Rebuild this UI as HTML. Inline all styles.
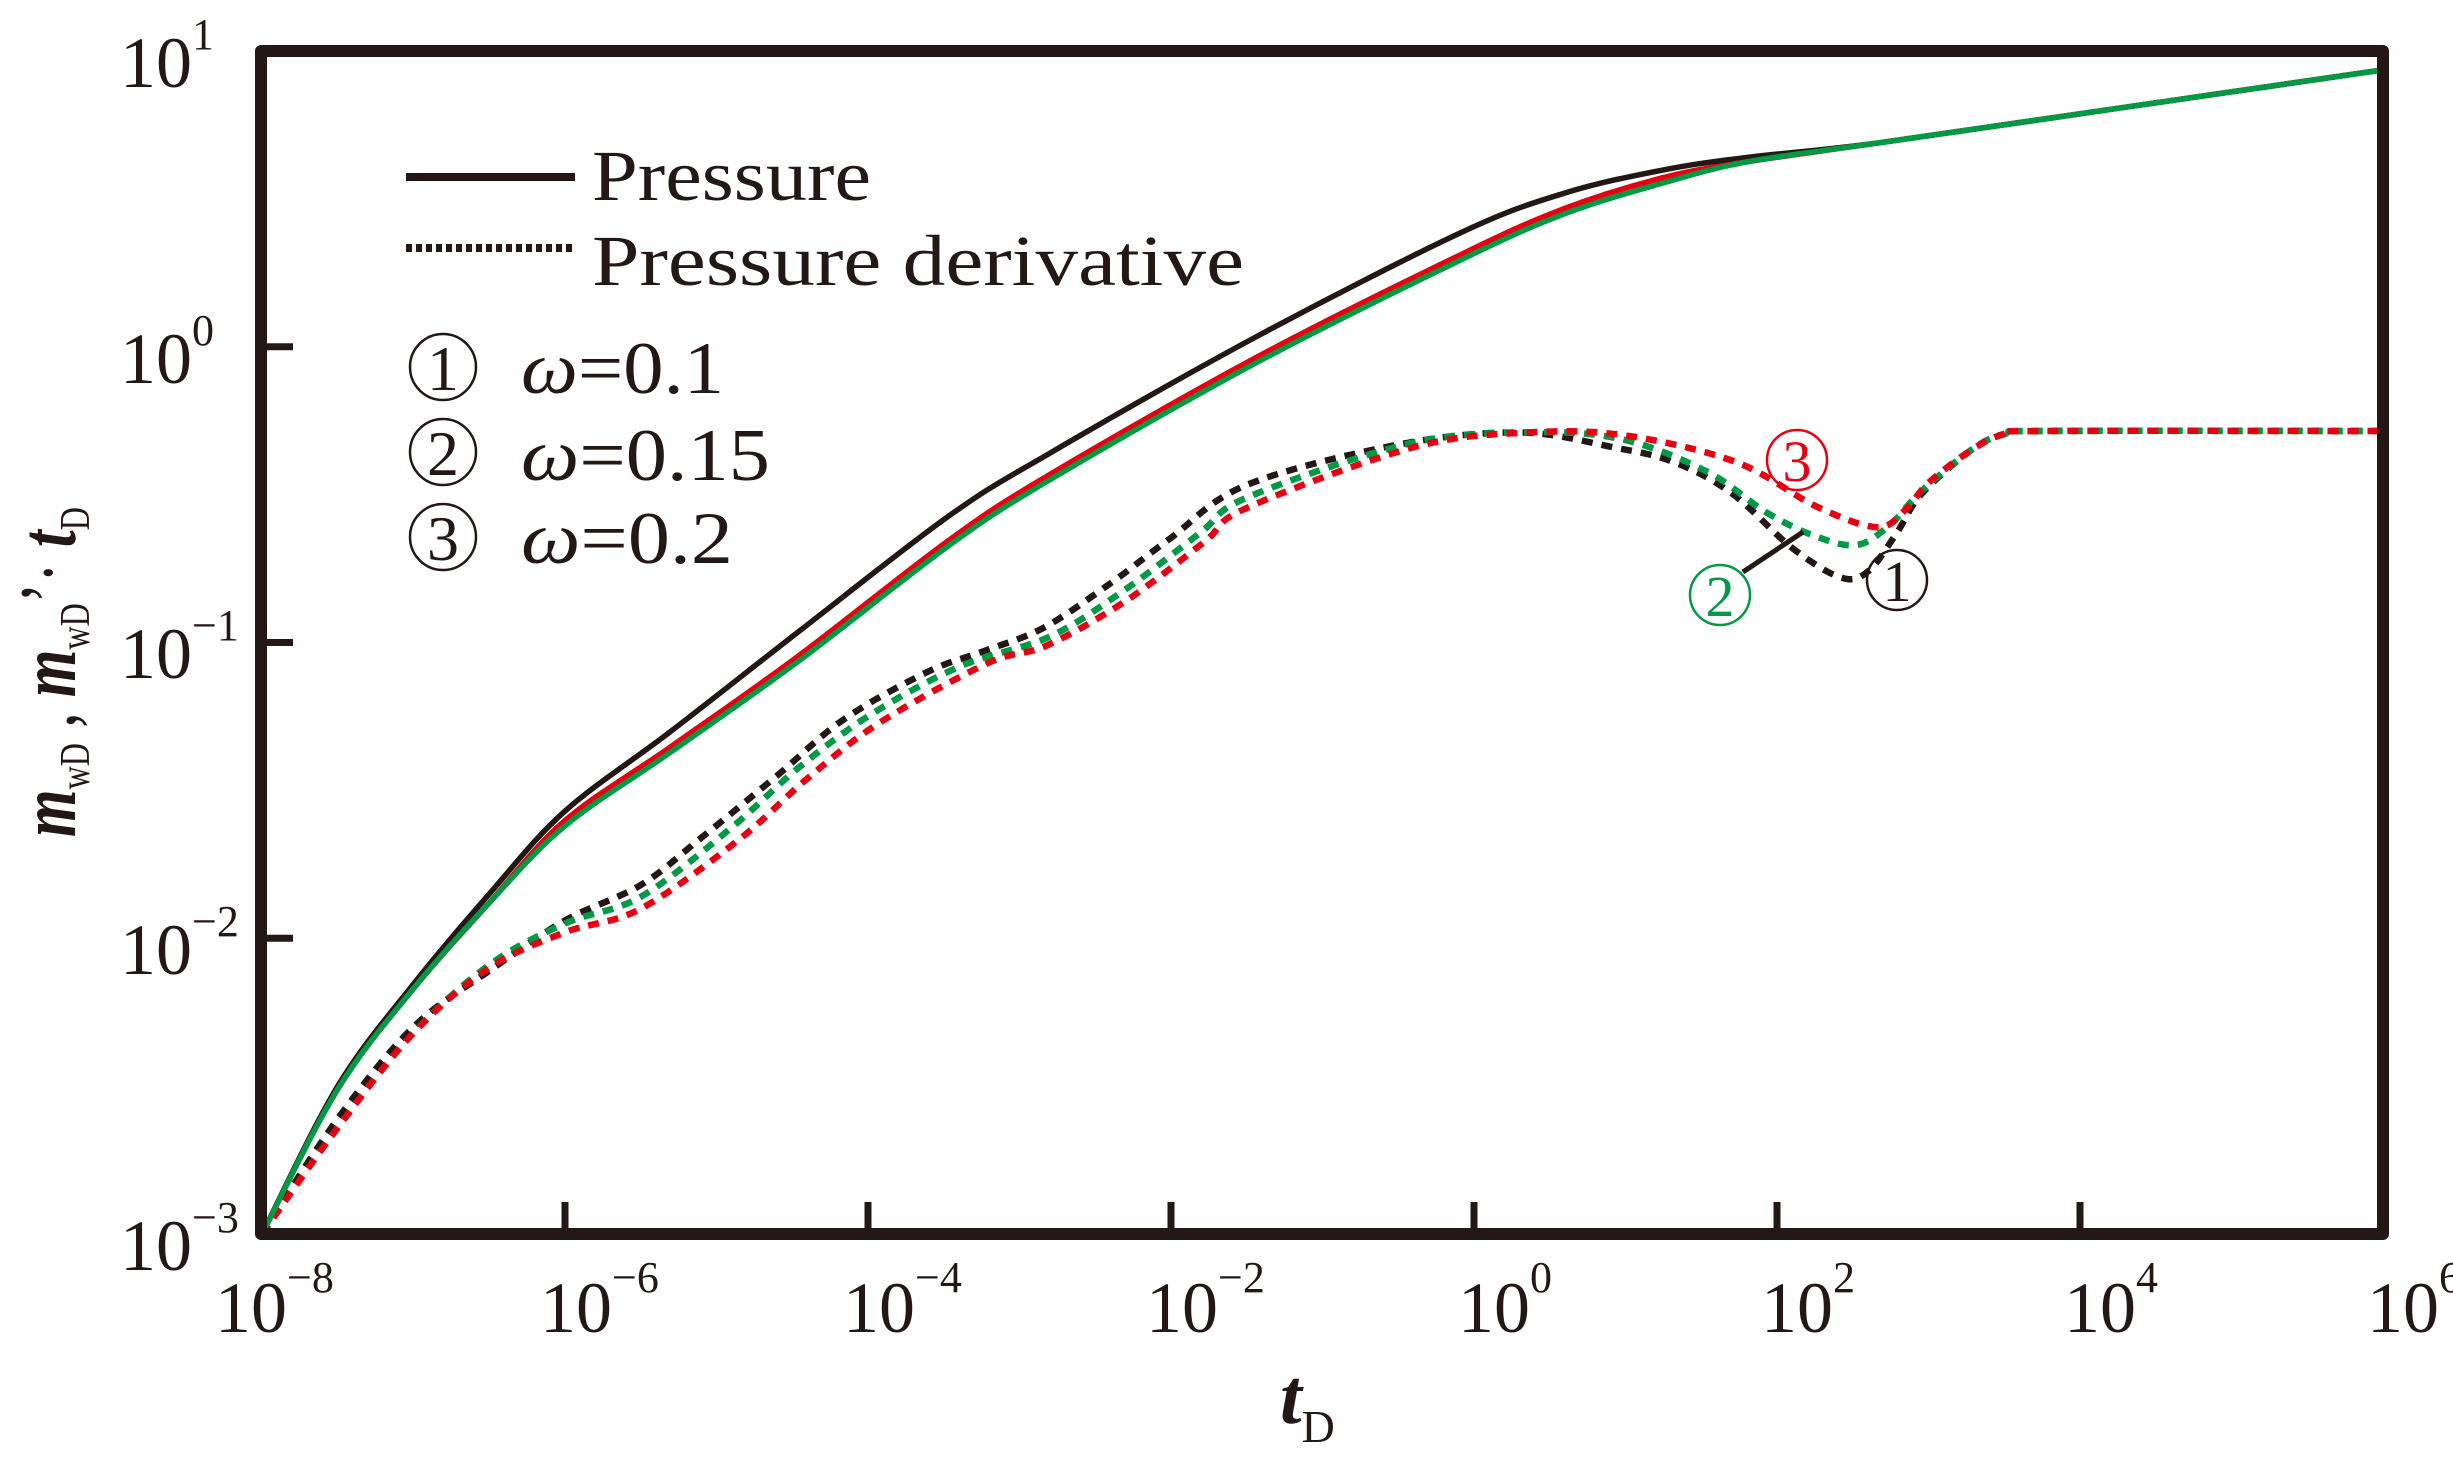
<!DOCTYPE html>
<html><head><meta charset="utf-8"><style>
html,body{margin:0;padding:0;background:#fff;}
svg{display:block;}
</style></head><body>
<svg id="s" width="2453" height="1462" viewBox="0 0 2453 1462" xmlns="http://www.w3.org/2000/svg" font-family="'Liberation Serif', 'Times New Roman', serif" fill="#231815">
<rect width="2453" height="1462" fill="#fff"/>
<g id="curves"></g>
<rect x="261" y="51" width="2122" height="1183" fill="none" stroke="#231815" stroke-width="12" stroke-linejoin="round"/>
<g stroke="#231815" stroke-width="7">
<line x1="565" y1="1234" x2="565" y2="1202"/>
<line x1="868" y1="1234" x2="868" y2="1202"/>
<line x1="1171" y1="1234" x2="1171" y2="1202"/>
<line x1="1474" y1="1234" x2="1474" y2="1202"/>
<line x1="1777" y1="1234" x2="1777" y2="1202"/>
<line x1="2080" y1="1234" x2="2080" y2="1202"/>
<line x1="261" y1="346.75" x2="293" y2="346.75"/>
<line x1="261" y1="642.5" x2="293" y2="642.5"/>
<line x1="261" y1="938.25" x2="293" y2="938.25"/>
</g>
<g font-size="72" font-family="'Liberation Serif', serif">
<text x="120" y="87">10<tspan font-size="44" dy="-38">1</tspan></text>
<text x="120" y="383">10<tspan font-size="44" dy="-38">0</tspan></text>
<text x="120" y="678">10<tspan font-size="44" dy="-38">−1</tspan></text>
<text x="120" y="974">10<tspan font-size="44" dy="-38">−2</tspan></text>
<text x="120" y="1270">10<tspan font-size="44" dy="-38">−3</tspan></text>
</g>
<g font-size="72" font-family="'Liberation Serif', serif">
<text x="215" y="1332">10<tspan font-size="44" dy="-40">−8</tspan></text>
<text x="540" y="1332">10<tspan font-size="44" dy="-40">−6</tspan></text>
<text x="843" y="1332">10<tspan font-size="44" dy="-40">−4</tspan></text>
<text x="1146" y="1332">10<tspan font-size="44" dy="-40">−2</tspan></text>
<text x="1458" y="1332">10<tspan font-size="44" dy="-40">0</tspan></text>
<text x="1761" y="1332">10<tspan font-size="44" dy="-40">2</tspan></text>
<text x="2064" y="1332">10<tspan font-size="44" dy="-40">4</tspan></text>
<text x="2367" y="1332">10<tspan font-size="44" dy="-40">6</tspan></text>
</g>
<text x="1280" y="1423" font-size="78" font-style="italic" font-weight="bold" font-family="'Liberation Serif', serif">t<tspan font-size="46" font-style="normal" font-weight="normal" dy="19">D</tspan></text>
<text transform="translate(75,837) rotate(-90)" font-size="80" font-family="'Liberation Serif', serif" textLength="330" lengthAdjust="spacingAndGlyphs"><tspan font-style="italic" font-weight="bold">m</tspan><tspan font-size="42" dy="14">wD</tspan><tspan dy="-14"> , </tspan><tspan font-style="italic" font-weight="bold">m</tspan><tspan font-size="42" dy="14">wD</tspan><tspan dy="-14">’· </tspan><tspan font-style="italic" font-weight="bold">t</tspan><tspan font-size="42" dy="14">D</tspan></text>
<line x1="406" y1="177" x2="575" y2="177" stroke="#231815" stroke-width="8"/>
<line x1="406" y1="248" x2="575" y2="248" stroke="#231815" stroke-width="8" stroke-dasharray="6 4"/>
<text x="592" y="200" font-size="72" font-family="'Liberation Serif', serif" textLength="279" lengthAdjust="spacingAndGlyphs">Pressure</text>
<text x="592" y="285" font-size="72" font-family="'Liberation Serif', serif" textLength="652" lengthAdjust="spacingAndGlyphs">Pressure  derivative</text>
<g fill="none" stroke="#231815" stroke-width="2.5">
<circle cx="443" cy="367" r="33"/>
<circle cx="443" cy="452" r="33"/>
<circle cx="443" cy="537" r="33"/>
</g>
<g font-size="64" text-anchor="middle" font-family="'Liberation Serif', serif">
<text x="443" y="390">1</text>
<text x="443" y="475">2</text>
<text x="443" y="560">3</text>
</g>
<g font-size="74" font-family="'Liberation Serif', serif">
<text x="521" y="393" textLength="203" lengthAdjust="spacingAndGlyphs"><tspan font-style="italic">ω</tspan>=0.1</text>
<text x="521" y="480" textLength="249" lengthAdjust="spacingAndGlyphs"><tspan font-style="italic">ω</tspan>=0.15</text>
<text x="521" y="563" textLength="212" lengthAdjust="spacingAndGlyphs"><tspan font-style="italic">ω</tspan>=0.2</text>
</g>
<line x1="1743" y1="572" x2="1803" y2="532" stroke="#231815" stroke-width="5"/>
<circle cx="1797" cy="460" r="30" fill="none" stroke="#e60012" stroke-width="2.5"/>
<text x="1797" y="481" font-size="58" text-anchor="middle" fill="#e60012" font-family="'Liberation Serif', serif">3</text>
<circle cx="1720" cy="595" r="30" fill="none" stroke="#009944" stroke-width="2.5"/>
<text x="1720" y="616" font-size="58" text-anchor="middle" fill="#009944" font-family="'Liberation Serif', serif">2</text>
<circle cx="1897" cy="580" r="30" fill="none" stroke="#231815" stroke-width="2.5"/>
<text x="1897" y="601" font-size="58" text-anchor="middle" font-family="'Liberation Serif', serif">1</text>
</svg>
<script>
(function(){
function X(l){return 262+(l+8)*151.5;}
function Y(l){return 51+(1-l)*295.75;}
function path(pts){
  var p=pts.map(function(a){return [X(a[0]),Y(a[1])];});
  var d="M"+p[0][0].toFixed(1)+","+p[0][1].toFixed(1);
  for(var i=0;i<p.length-1;i++){
    var p0=p[i-1]||p[i],p1=p[i],p2=p[i+1],p3=p[i+2]||p[i+1];
    var c1x=p1[0]+(p2[0]-p0[0])/6,c1y=p1[1]+(p2[1]-p0[1])/6;
    var c2x=p2[0]-(p3[0]-p1[0])/6,c2y=p2[1]-(p3[1]-p1[1])/6;
    d+=" C"+c1x.toFixed(1)+","+c1y.toFixed(1)+" "+c2x.toFixed(1)+","+c2y.toFixed(1)+" "+p2[0].toFixed(1)+","+p2[1].toFixed(1);
  }
  return d;
}
var gP=[[-8,-3],[-7.5,-2.51],[-7,-2.17],[-6.5,-1.88],[-6,-1.62],[-5.3,-1.37],[-4.45,-1.06],[-3.46,-0.67],[-2.8,-0.45],[-1.44,-0.055],[-0.09,0.293],[0.6,0.45],[1.25,0.554],[1.8,0.625],[2.68,0.69],[4.3,0.81],[6,0.936]];
var bP=[[-8,-3],[-7.5,-2.50],[-7,-2.155],[-6.5,-1.85],[-6,-1.57],[-5.3,-1.30],[-4.45,-0.96],[-3.46,-0.57],[-2.8,-0.36],[-1.44,0.033],[-0.09,0.385],[0.6,0.52],[1.25,0.598],[1.8,0.64],[2.68,0.69],[4.3,0.81],[6,0.936]];
var rP=gP.map(function(a){var o=(a[0]>-6.5&&a[0]<1.6)?0.018:0;return [a[0],a[1]+o];});
var bD=[[-8,-3],[-7.5,-2.61],[-7,-2.30],[-6.5,-2.11],[-6,-1.94],[-5.5,-1.82],[-5.1,-1.66],[-4.6,-1.45],[-4.16,-1.26],[-3.61,-1.10],[-3.24,-1.03],[-2.84,-0.95],[-2.4,-0.80],[-2.01,-0.65],[-1.5,-0.467],[-0.49,-0.33],[0.31,-0.29],[0.92,-0.34],[1.32,-0.39],[1.70,-0.495],[2.1,-0.68],[2.42,-0.78],[2.6,-0.76],[2.79,-0.63],[2.95,-0.50],[3.28,-0.35],[3.5,-0.295],[3.75,-0.285],[6,-0.285]];
var gD=[[-8,-3],[-7.5,-2.64],[-7,-2.32],[-6.5,-2.09],[-6,-1.95],[-5.5,-1.86],[-4.91,-1.63],[-4.45,-1.42],[-3.97,-1.24],[-3.39,-1.08],[-2.80,-0.98],[-2.3,-0.82],[-1.81,-0.63],[-1.5,-0.51],[-0.45,-0.33],[0.3,-0.29],[0.95,-0.31],[1.53,-0.42],[1.93,-0.56],[2.25,-0.64],[2.53,-0.67],[2.75,-0.60],[2.95,-0.49],[3.28,-0.35],[3.5,-0.295],[3.75,-0.285],[6,-0.285]];
var rD=[[-8,-3],[-7.5,-2.64],[-7,-2.32],[-6.5,-2.10],[-6,-1.98],[-5.5,-1.90],[-4.86,-1.67],[-4.4,-1.46],[-3.92,-1.27],[-3.21,-1.07],[-2.82,-1.01],[-2.3,-0.86],[-1.78,-0.66],[-1.5,-0.545],[-0.4,-0.34],[0.35,-0.29],[1.0,-0.30],[1.73,-0.39],[2.26,-0.54],[2.66,-0.61],[2.85,-0.55],[3.0,-0.46],[3.28,-0.35],[3.5,-0.295],[3.75,-0.285],[6,-0.285]];
var defs=[
 [bD,"#231815",true],[gD,"#009944",true],[rD,"#e60012",true],
 [bP,"#231815",false],[rP,"#e60012",false],[gP,"#009944",false]
];
var g=document.getElementById("curves"),ns="http://www.w3.org/2000/svg";
defs.forEach(function(d){
  var e=document.createElementNS(ns,"path");
  e.setAttribute("d",path(d[0]));
  e.setAttribute("fill","none");
  e.setAttribute("stroke",d[1]);
  e.setAttribute("stroke-width",d[2]?"6.5":"5.5");
  if(d[2])e.setAttribute("stroke-dasharray","11 9");
  g.appendChild(e);
});
})();
</script>
</body></html>
